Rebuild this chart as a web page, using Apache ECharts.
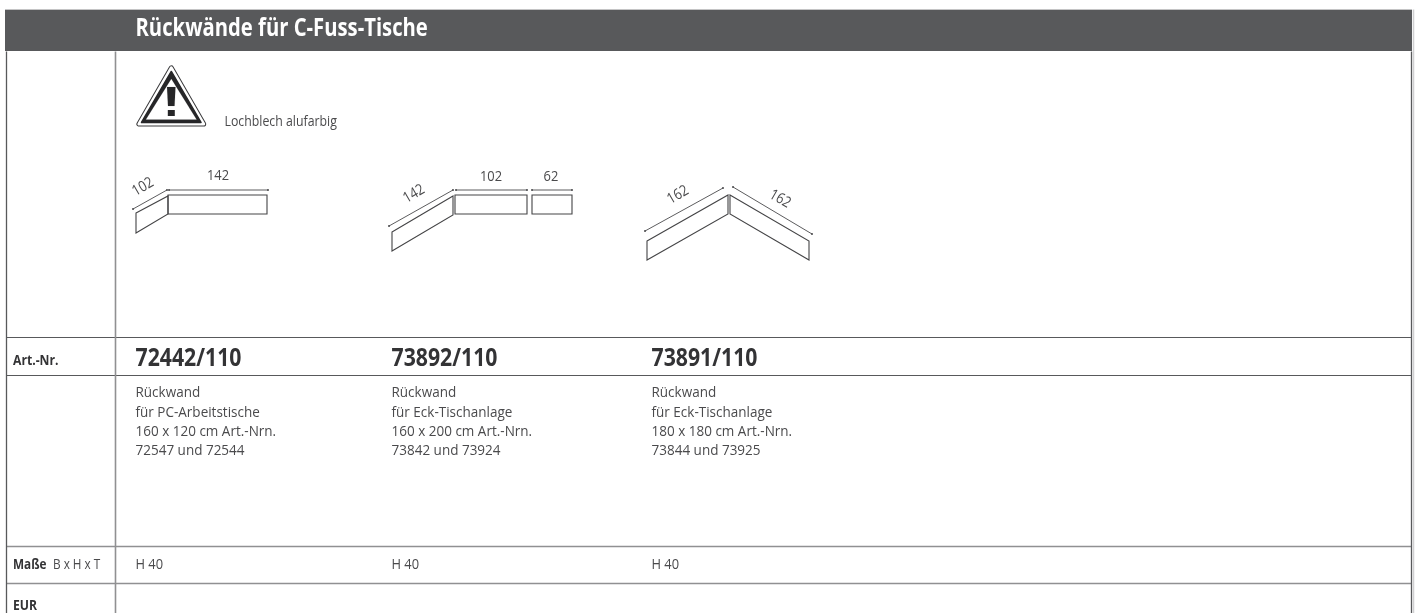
<!DOCTYPE html>
<html><head><meta charset="utf-8">
<style>html,body{margin:0;padding:0;background:#fff}#c{width:1416px;height:613px}</style>
<script src="https://cdn.jsdelivr.net/npm/echarts@6/dist/echarts.min.js"></script>
</head><body><div id="c"></div>
<script>
// ---- content ----
const title = ['Rückwände für C-Fuss-Tische'];
const note = ['Lochblech alufarbig'];
const articleNumbers = ['72442/110', '73892/110', '73891/110'];
const descriptions = [
  ['Rückwand', 'für PC-Arbeitstische', '160 x 120 cm Art.-Nrn.', '72547 und 72544'],
  ['Rückwand', 'für Eck-Tischanlage', '160 x 200 cm Art.-Nrn.', '73842 und 73924'],
  ['Rückwand', 'für Eck-Tischanlage', '180 x 180 cm Art.-Nrn.', '73844 und 73925']
];
const heights = ['H 40', 'H 40', 'H 40'];
const rowLabels = ['Art.-Nr.', 'Maße', 'B x H x T', 'EUR'];
const panelSizes = ['102', '142', '142', '102', '62', '162', '162'];

// ---- layout, in page pixels (the axes below map 1:1) ----
const W = 1416, H = 613;
const F = '"Open Sans"';
const DARK = '#58595b', INK = '#333335', TXT = '#4a4a4c', RULE = '#909092';
const colX = [135.5, 391.5, 651.5];
const RIGHT = 1411;
const hRules = [[6, 337, RIGHT, 337, DARK, 1.1], [6, 375, RIGHT, 375, DARK, 1.1], [6, 546, RIGHT, 546, RULE, 1.5], [6, 583, RIGHT, 583, RULE, 1.5]];
const vRules = [[6, 51, 6, 613, DARK, 1.3], [115, 51, 115, 613, RULE, 1.6], [RIGHT, 51, RIGHT, 613, DARK, 1.3], [1413, 9, 1413, 613, '#d0d0d1', 1.5]];
const polys = [
  [[136, 213], [168, 196], [168, 214], [136, 233]],
  [[168, 195], [267, 195], [267, 214], [168, 214]],
  [[392, 232], [453, 196], [453, 215], [392, 251]],
  [[455, 195], [527, 195], [527, 214], [455, 214]],
  [[532, 195], [572, 195], [572, 214], [532, 214]],
  [[647, 241], [728, 195], [728, 214], [647, 260]],
  [[730, 195], [809, 241], [809, 260], [730, 214]]
];
const dims = [
  [[133, 209], [167, 190]], [[169, 190], [268, 190]],
  [[389, 226], [453, 190]], [[456, 190], [527, 190]], [[532, 190], [572, 190]],
  [[645, 231], [723, 188]], [[733, 187], [812, 234]]
];
const sizeAnchors = [
  [143, 187, 30], [218, 176, 0], [414, 194, 30], [491, 177, 0], [551, 177, 0], [678, 195, 30], [780, 199, -30]
];

const lines = [...hRules, ...vRules];
const texts = [];
function T(s, x, y, size, weight, fill, sx) { texts.push([x, y, s, size, weight, fill, 0, 'left', sx]); }
T(title[0], 135.5, 28.5, 25, 700, '#ffffff', 0.81);
T(note[0], 224.5, 122, 14, 400, TXT, 0.88);
T(rowLabels[0], 13, 360.5, 14.5, 700, INK, 0.84);
T(rowLabels[1], 13, 565, 14, 700, INK, 0.84);
T(rowLabels[2], 53, 565, 14, 400, TXT, 0.84);
T(rowLabels[3], 13, 606, 14.5, 700, INK, 0.84);
articleNumbers.forEach((a, i) => T(a, colX[i], 358.5, 25, 700, INK, 0.85));
descriptions.forEach((d, i) => d.forEach((l, j) => T(l, colX[i], 393 + j * 19.3, 15, 400, TXT, 0.9)));
heights.forEach((h, i) => T(h, colX[i], 565, 15, 400, TXT, 0.86));
panelSizes.forEach((s, i) => {
  const a = sizeAnchors[i];
  texts.push([a[0], a[1], s, 15, 400, TXT, a[2], 'center', 0.86]);
});

const chart = echarts.init(document.getElementById('c'), null, { renderer: 'canvas', width: W, height: H });

function pts(api, arr) { return arr.map(p => api.coord(p)); }

chart.setOption({
  animation: false,
  grid: { left: 0, right: 0, top: 0, bottom: 0 },
  xAxis: { type: 'value', min: 0, max: W, show: false },
  yAxis: { type: 'value', min: 0, max: H, inverse: true, show: false },
  series: [
    { // header band and its light top edge
      type: 'custom', coordinateSystem: 'cartesian2d', silent: true, clip: false, data: [[5, 10, 1412, 51]],
      renderItem(p, api) {
        const a = api.coord([api.value(0), api.value(1)]), b = api.coord([api.value(2), api.value(3)]);
        return { type: 'group', children: [
          { type: 'rect', shape: { x: a[0], y: a[1] - 1, width: b[0] - a[0], height: 1 }, style: { fill: '#c4c4c5' } },
          { type: 'rect', shape: { x: a[0], y: a[1], width: b[0] - a[0], height: b[1] - a[1] }, style: { fill: DARK } }
        ] };
      }
    },
    { // rules
      type: 'custom', coordinateSystem: 'cartesian2d', silent: true, data: lines.map((l, i) => [l[0], l[1], i]),
      renderItem(p, api) {
        const l = lines[api.value(2)], a = api.coord([l[0], l[1]]), b = api.coord([l[2], l[3]]);
        return { type: 'line', shape: { x1: a[0] + 0.5, y1: a[1] + 0.5, x2: b[0] + 0.5, y2: b[1] + 0.5 }, style: { stroke: l[4], lineWidth: l[5] } };
      }
    },
    { // panel drawings
      type: 'custom', coordinateSystem: 'cartesian2d', silent: true, data: polys.map((_, i) => [polys[i][0][0], polys[i][0][1], i]),
      renderItem(p, api) {
        return { type: 'polygon', shape: { points: pts(api, polys[api.value(2)]) }, style: { fill: 'none', stroke: '#444446', lineWidth: 1.1 } };
      }
    },
    { // dimension lines
      type: 'custom', coordinateSystem: 'cartesian2d', silent: true, data: dims.map((d, i) => [d[0][0], d[0][1], i]),
      renderItem(p, api) {
        const d = dims[api.value(2)], a = api.coord(d[0]), b = api.coord(d[1]);
        const dot = c => ({ type: 'circle', shape: { cx: c[0], cy: c[1], r: 1 }, style: { fill: '#4a4a4c' } });
        return { type: 'group', children: [
          { type: 'line', shape: { x1: a[0], y1: a[1], x2: b[0], y2: b[1] }, style: { stroke: '#4a4a4c', lineWidth: 0.9 } },
          dot(a), dot(b)
        ] };
      }
    },
    { // warning sign
      type: 'custom', coordinateSystem: 'cartesian2d', silent: true, data: [[171, 65]],
      renderItem(p, api) {
        const P = a => pts(api, a);
        const K = '#262628';
        const tri = (points, fill, stroke, w) => ({ type: 'polygon', shape: { points: P(points) }, style: { fill, stroke, lineWidth: w, lineJoin: 'round' } });
        const outer = [[171.3, 68], [139, 124], [203.6, 124]];
        return { type: 'group', children: [
          tri(outer, '#fff', '#3a3a3c', 5.2),
          tri(outer, '#fff', '#fff', 3.2),
          tri([[171.3, 71.5], [141.5, 122.5], [201, 122.5]], K, K, 1.5),
          tri([[171.3, 79], [146, 119.5], [196.5, 119.5]], '#fff', '#fff', 0.1),
          tri([[167, 87], [175.5, 87], [174.5, 106], [168, 106]], K, K, 0.1),
          { type: 'rect', shape: (function () { const a = api.coord([167.8, 110]); return { x: a[0], y: a[1], width: 7, height: 6 }; })(), style: { fill: K } }
        ] };
      }
    },
    { // all text
      type: 'custom', coordinateSystem: 'cartesian2d', silent: true, data: texts.map((t, i) => [t[0], t[1], i]),
      renderItem(p, api) {
        const t = texts[api.value(2)], c = api.coord([t[0], t[1]]);
        return {
          type: 'text', x: c[0], y: c[1], scaleX: t[8], rotation: (t[6] || 0) * Math.PI / 180,
          style: { text: t[2], fontFamily: F, fontSize: t[3], fontWeight: t[4], fill: t[5], align: t[7] || 'left', verticalAlign: 'middle' }
        };
      }
    }
  ]
});
</script></body></html>
